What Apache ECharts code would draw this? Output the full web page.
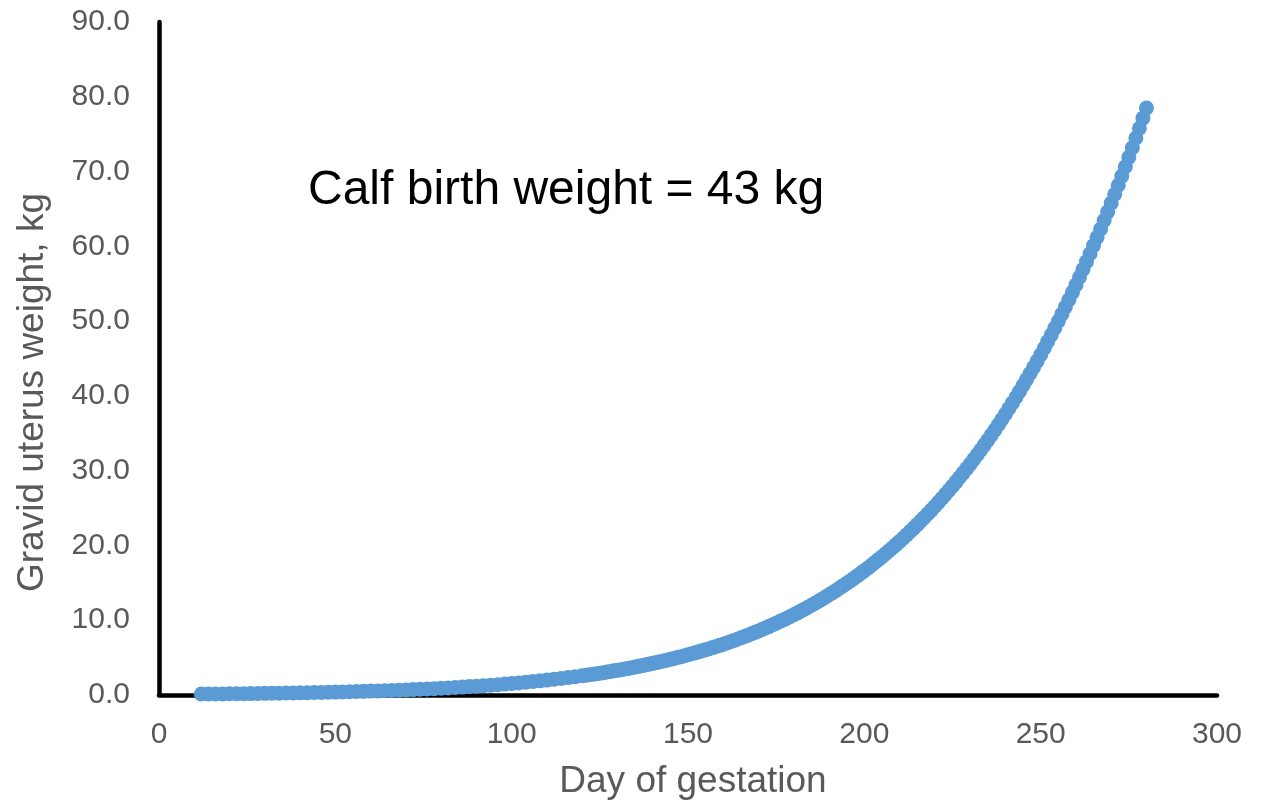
<!DOCTYPE html>
<html>
<head>
<meta charset="utf-8">
<script src="https://cdn.jsdelivr.net/npm/echarts@6/dist/echarts.min.js"></script>
<style>
  html, body { margin: 0; padding: 0; background: #fff; }
  #chart { width: 1268px; height: 800px; }
</style>
</head>
<body>
<div id="chart"></div>
<script>
// Datos
const days = [
  12, 14, 16, 18, 20, 22, 24, 26, 28, 30, 32, 34, 36, 38, 40, 42, 44, 46, 48, 50,
  52, 54, 56, 58, 60, 62, 64, 66, 68, 70, 72, 74, 76, 78, 80, 82, 84, 86, 88, 90,
  92, 94, 96, 98, 100, 102, 104, 106, 108, 110, 112, 114, 116, 118, 120,
  121, 122, 123, 124, 125, 126, 127, 128, 129, 130,
  131, 132, 133, 134, 135, 136, 137, 138, 139, 140,
  141, 142, 143, 144, 145, 146, 147, 148, 149, 150,
  151, 152, 153, 154, 155, 156, 157, 158, 159, 160,
  161, 162, 163, 164, 165, 166, 167, 168, 169, 170,
  171, 172, 173, 174, 175, 176, 177, 178, 179, 180,
  181, 182, 183, 184, 185, 186, 187, 188, 189, 190,
  191, 192, 193, 194, 195, 196, 197, 198, 199, 200,
  201, 202, 203, 204, 205, 206, 207, 208, 209, 210,
  211, 212, 213, 214, 215, 216, 217, 218, 219, 220,
  221, 222, 223, 224, 225, 226, 227, 228, 229, 230,
  231, 232, 233, 234, 235, 236, 237, 238, 239, 240,
  241, 242, 243, 244, 245, 246, 247, 248, 249, 250,
  251, 252, 253, 254, 255, 256, 257, 258, 259, 260,
  261, 262, 263, 264, 265, 266, 267, 268, 269, 270,
  271, 272, 273, 274, 275, 276, 277, 278, 279, 280
];
const uterusWeight = [
  0.13, 0.13, 0.14, 0.15, 0.16, 0.17, 0.18, 0.19, 0.20, 0.22, 0.23, 0.24, 0.26, 0.27, 0.29, 0.31, 0.33, 0.35, 0.37, 0.39,
  0.41, 0.44, 0.46, 0.49, 0.52, 0.55, 0.58, 0.61, 0.65, 0.68, 0.72, 0.76, 0.81, 0.85, 0.90, 0.95, 1.00, 1.06, 1.12, 1.18,
  1.24, 1.31, 1.38, 1.46, 1.54, 1.62, 1.71, 1.80, 1.89, 1.99, 2.10, 2.21, 2.33, 2.45, 2.57,
  2.64, 2.71, 2.78, 2.85, 2.92, 2.99, 3.07, 3.15, 3.23, 3.31,
  3.39, 3.47, 3.56, 3.65, 3.74, 3.83, 3.93, 4.03, 4.13, 4.23,
  4.33, 4.44, 4.55, 4.66, 4.77, 4.89, 5.01, 5.13, 5.25, 5.38,
  5.51, 5.64, 5.77, 5.91, 6.05, 6.20, 6.34, 6.49, 6.64, 6.80,
  6.96, 7.13, 7.30, 7.47, 7.64, 7.82, 8.00, 8.19, 8.38, 8.57,
  8.77, 8.97, 9.18, 9.39, 9.60, 9.82, 10.04, 10.27, 10.50, 10.74,
  10.98, 11.23, 11.48, 11.74, 12.00, 12.27, 12.54, 12.82, 13.11, 13.40,
  13.69, 13.99, 14.30, 14.62, 14.94, 15.26, 15.59, 15.93, 16.28, 16.63,
  16.99, 17.35, 17.73, 18.11, 18.49, 18.89, 19.29, 19.70, 20.11, 20.54,
  20.97, 21.41, 21.86, 22.32, 22.78, 23.26, 23.74, 24.23, 24.73, 25.24,
  25.76, 26.29, 26.83, 27.38, 27.93, 28.50, 29.08, 29.67, 30.27, 30.87,
  31.49, 32.12, 32.76, 33.42, 34.08, 34.76, 35.44, 36.14, 36.85, 37.57,
  38.31, 39.06, 39.82, 40.59, 41.38, 42.18, 42.99, 43.82, 44.65, 45.51,
  46.38, 47.26, 48.15, 49.06, 49.99, 50.93, 51.89, 52.86, 53.84, 54.84,
  55.86, 56.90, 57.95, 59.01, 60.10, 61.20, 62.32, 63.45, 64.61, 65.78,
  66.96, 68.17, 69.39, 70.64, 71.90, 73.18, 74.48, 75.80, 77.14, 78.50
];
const annotationText = 'Calf birth weight = 43 kg';
const xTitle = 'Day of gestation';
const yTitle = 'Gravid uterus weight, kg';

const font = '"Liberation Sans", Arial, sans-serif';
const grey = '#595959';

const chart = echarts.init(document.getElementById('chart'));

chart.setOption({
    animation: false,
    backgroundColor: '#fff',
    textStyle: { fontFamily: font },
    grid: { left: 159, right: 51, top: 22, bottom: 105, outerBoundsMode: 'none' },
    xAxis: {
        type: 'value',
        min: 0,
        max: 300,
        interval: 50,
        name: xTitle,
        nameLocation: 'middle',
        nameGap: 68,
        nameTextStyle: { fontSize: 37, color: grey, fontFamily: font, padding: [0, 0, 0, 10] },
        axisLine: { lineStyle: { color: '#000', width: 4.5 } },
        axisTick: { show: false },
        splitLine: { show: false },
        axisLabel: { fontSize: 30, color: grey, margin: 25, fontFamily: font }
    },
    yAxis: {
        type: 'value',
        min: 0,
        max: 90,
        interval: 10,
        name: yTitle,
        nameLocation: 'middle',
        nameGap: 108,
        nameTextStyle: { fontSize: 37, color: grey, fontFamily: font, padding: [0, 68, 0, 0] },
        axisLine: { show: true, lineStyle: { color: '#000', width: 4.5 } },
        axisTick: { show: false },
        splitLine: { show: false },
        axisLabel: {
            fontSize: 30,
            color: grey,
            margin: 29,
            fontFamily: font,
            formatter: v => v.toFixed(1)
        }
    },
    graphic: [{
        type: 'text',
        left: 308,
        top: 167,
        style: { text: annotationText, fontSize: 48, fill: '#000', fontFamily: font }
    }],
    series: [{
        type: 'scatter',
        symbol: 'circle',
        symbolSize: 15,
        itemStyle: { color: '#5B9BD5', opacity: 1 },
        data: days.map((d, i) => [d, uterusWeight[i]])
    }]
});
</script>
</body>
</html>
